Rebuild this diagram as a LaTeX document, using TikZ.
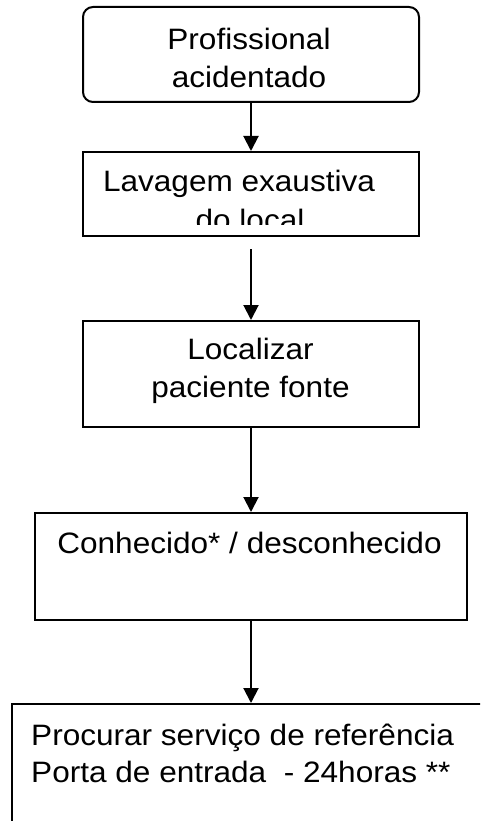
\documentclass[tikz,border=0pt]{standalone}
\usepackage{fontspec}
\setmainfont{Liberation Sans}[FakeStretch=1.07]
\usetikzlibrary{arrows.meta}
\begin{document}
\begin{tikzpicture}[x=1pt,y=-1pt,
  box/.style={draw=black,line width=2pt,fill=white,inner sep=0pt,minimum width=#1},
  rbox/.style={box=#1,rounded corners=10pt},
  txt/.style={inner sep=0pt,font=\fontsize{29.5}{37.7}\selectfont,text=black},
  arr/.style={draw=black,line width=2pt,-{Triangle[width=15pt,length=15pt]}}]
\clip (0,0) rectangle (480,821);
\fill[white] (0,0) rectangle (480,821);
% boxes
\node[rbox=336pt,minimum height=95pt] (b1) at (251,54.5) {};
\node[box=336pt,minimum height=84pt] (b2) at (251,194) {};
\node[box=336pt,minimum height=106pt] (b3) at (251,374) {};
\node[box=432pt,minimum height=107pt] (b4) at (251,566.5) {};
\node[box=508pt,minimum height=156pt] (b5) at (266,782) {};
% texts
\node[txt,anchor=base] (t1a) at (249,49.3) {Profissional};
\node[txt,anchor=base] (t1b) at (249,87.3) {acidentado};
\node[txt,anchor=base] (t2a) at (239,192) {Lavagem exaustiva};
\begin{scope}
\clip (84,153) rectangle (418,224);
\node[txt,anchor=base] (t2b) at (250,230) {do local};
\end{scope}
\node[txt,anchor=base] (t3a) at (250.5,359.3) {Localizar};
\node[txt,anchor=base] (t3b) at (250.5,397) {paciente fonte};
\node[txt,anchor=base] (t4a) at (249.5,553) {Conhecido* / desconhecido};
\node[txt,anchor=base west] (t5a) at (31,745) {Procurar serviço de referência};
\node[txt,anchor=base west] (t5b) at (31,782) {Porta de entrada\ \ - 24horas **};
% connectors
\draw[arr] (b1.south -| 251,0) -- (b2.north -| 251,0);
\draw[arr,shorten <=12pt] (b2.south -| 251,0) -- (b3.north -| 251,0);
\draw[arr] (b3.south -| 251,0) -- (b4.north -| 251,0);
\draw[arr] (b4.south -| 251,0) -- (b5.north -| 251,0);
\end{tikzpicture}
\end{document}
